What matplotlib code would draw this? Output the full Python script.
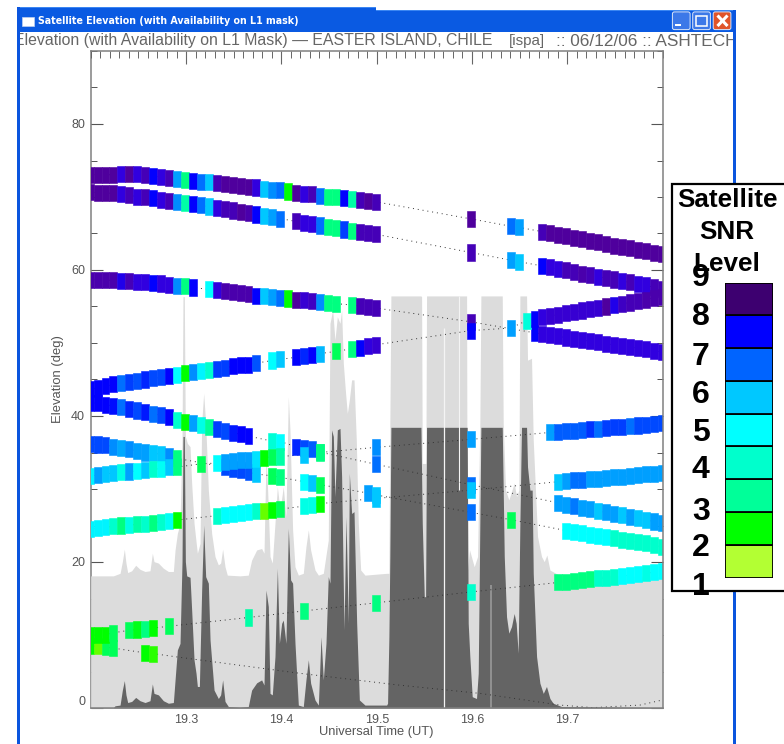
import matplotlib
matplotlib.use("Agg")
import matplotlib.pyplot as plt
from matplotlib.colors import LinearSegmentedColormap
from matplotlib.patches import Rectangle, FancyBboxPatch
from matplotlib.ticker import MultipleLocator, FixedLocator
from matplotlib.transforms import Bbox

W, H = 784, 744
IDL_FONT = "Liberation Sans"
IDL_COLOR = "#555555"

# --- SNR colour scale ----------------------------------------------------
level_nodes = [1, 1.5, 2, 3, 4, 5, 6, 6.5, 7, 7.5, 8, 8.3, 8.6, 8.8, 9]
level_hex = ["#B3FF33", "#66FF00", "#00FF00", "#00FF80", "#00FFCC", "#00FFFF", "#00C8FF",
             "#00A0FF", "#0070FF", "#0040FF", "#0000FF", "#3000E0", "#4400B8", "#5000A0", "#400070"]
legend_levels = [1, 2, 3, 4, 5, 6, 7, 8, 9]
legend_hex = ["#B3FF33", "#00FF00", "#00FF99", "#00FFCC", "#00FFFF", "#00C8FF", "#0064FF", "#0000FF", "#3D0070"]

# --- Satellite tracks: epoch (30 s cells from 19.2 UT), elevation (deg), SNR level ---
a_epoch = [*range(-1, 36), 47, 52, 53, *range(56, 72)]
a_elev = [73.05, 73.05, 73.05, 73.05, 73.1, 73.15, 73.15, 73.0, 72.85, 72.75, 72.6, 72.5, 72.3, 72.2, 72.1, 72.0,
          71.9, 71.75, 71.65, 71.55, 71.4, 71.3, 71.15, 71.0, 70.9, 70.75, 70.6, 70.45, 70.35, 70.2, 70.05, 69.95,
          69.8, 69.7, 69.6, 69.45, 69.35,
          67.0, 66.0, 65.85,
          65.25, 65.05, 64.8, 64.6, 64.4, 64.2, 64.0, 63.8, 63.55, 63.35, 63.15, 62.95, 62.75, 62.55, 62.35, 62.15]
a_level = [8.8, 8.8, 8.8, 8.8, 8.3, 8.8, 8.3, 8.6, 8, 8.3, 8.6, 6.5, 3, 8, 7, 6,
           8.6, 8.8, 8.8, 8.8, 8.8, 8.3, 6, 6.7, 7, 2, 8.8, 8.3, 8.6, 7, 3, 3,
           8, 3.5, 8.6, 8.8, 8.6,
           8.8, 7, 6.5,
           8.6, 8.8, 8.8, 8.8, 8.8, 8.8, 8.8, 8.8, 8.8, 8.8, 8.8, 8.8, 8.8, 8.8, 8.8, 8.8]

b_epoch = [*range(-1, 24), *range(25, 36), 47, 52, 53, *range(56, 72)]
b_elev = [70.65, 70.6, 70.55, 70.5, 70.4, 70.25, 70.05, 69.95, 69.8, 69.6, 69.45, 69.3, 69.15, 69.0, 68.85, 68.7,
          68.45, 68.3, 68.15, 68.0, 67.85, 67.6, 67.4, 67.25, 67.05,
          66.65, 66.5, 66.3, 66.1, 65.9, 65.75, 65.55, 65.4, 65.2, 65.05, 64.9,
          62.4, 61.35, 61.15,
          60.55, 60.35, 60.15, 59.95, 59.75, 59.5, 59.3, 59.1, 58.9, 58.7, 58.5, 58.3, 58.1, 57.9, 57.65, 57.45]
b_level = [8.8, 8.8, 8.8, 8.8, 8.3, 8.6, 8.3, 8.6, 8, 8.3, 8.6, 6.7, 3.5, 8, 7, 6,
           8.3, 8.6, 8.6, 8.8, 8.7, 8, 6, 6.5, 7,
           8.6, 8.3, 8.3, 7, 3, 3, 7.5, 3, 8.6, 8.6, 8.6,
           8.6, 6.5, 6,
           8, 8.3, 8.3, 8.6, 8.6, 8.7, 8.6, 8.3, 8.6, 8.6, 8.3, 8.6, 8.3, 8.3, 8.6, 8.6]

c_epoch = [*range(-1, 13), *range(14, 31), *range(32, 36), 47, *range(55, 72)]
c_elev = [58.65, 58.65, 58.6, 58.6, 58.55, 58.5, 58.4, 58.35, 58.25, 58.15, 58.0, 57.85, 57.75, 57.6,
          57.35, 57.2, 57.1, 56.95, 56.85, 56.7, 56.5, 56.4, 56.3, 56.2, 56.1, 55.95, 55.85, 55.75, 55.65, 55.5, 55.4,
          55.2, 55.05, 54.95, 54.8,
          52.9,
          51.4, 51.25, 51.05, 50.9, 50.75, 50.55, 50.4, 50.25, 50.1, 49.9, 49.75, 49.6, 49.45, 49.3, 49.15, 48.95, 48.8]
c_level = [8.7, 8.7, 8.7, 8.7, 8.2, 8.6, 8.3, 8.3, 8, 8.3, 8.3, 6.7, 3, 8,
           5, 8.3, 8.7, 8.7, 8.7, 8.7, 8, 6, 6.5, 7, 2, 8.8, 8.4, 8.5, 6.7, 3, 3,
           3, 8.6, 8.6, 8.6,
           8.6,
           8, 8.3, 8.3, 8.3, 8.3, 8.3, 8.3, 8.3, 8.3, 8.3, 8.3, 8.3, 8.3, 8.3, 8.3, 8.3, 8.3]

d_epoch = [*range(-1, 21), 22, 23, *range(25, 29), 30, *range(32, 36), 47, 52, *range(54, 72)]
d_elev = [43.7, 43.8, 44.05, 44.35, 44.5, 44.65, 44.8, 45.0, 45.15, 45.3, 45.5, 45.65, 45.85, 46.0, 46.15, 46.3,
          46.5, 46.6, 46.8, 46.95, 47.05, 47.25,
          47.6, 47.75, 48.05, 48.2, 48.35, 48.55, 48.85, 49.2, 49.35, 49.55, 49.75,
          51.7, 52.05,
          53.05, 53.3, 53.5, 53.7, 53.9, 54.05, 54.25, 54.45, 54.65, 54.8, 55.0, 55.2, 55.35, 55.55, 55.75, 55.95,
          56.15, 56.35]
d_level = [8, 8, 8, 8, 7, 7.5, 7.3, 7.7, 7.4, 7.4, 8, 5, 2, 6.7, 5.2, 4,
           7.5, 7.5, 8, 8, 8, 7.3,
           5, 6, 8, 7.7, 8, 6.2, 2.7, 3, 8, 8.3, 8.4,
           8, 6.5,
           4.3, 8, 8.3, 8.4, 8.4, 8.4, 8.4, 8.4, 8.4, 8.4, 8.8, 8.2, 8.5, 8.6, 8.6, 8.7, 8.7, 8.7]

f_epoch = [*range(-1, 20), 22, 23, *range(25, 29), 35, 47, *range(58, 72)]
f_elev = [41.8, 41.75, 41.55, 41.35, 41.2, 40.95, 40.75, 40.55, 40.3, 40.1, 39.85,
          39.45, 39.2, 39.0, 38.75, 38.5, 38.2, 37.95, 37.7, 37.5, 37.25,
          36.55, 36.5, 35.8, 35.65, 35.45, 35.05, 33.4, 30.6,
          28.1, 27.85, 27.65, 27.45, 27.2, 27.0, 26.8, 26.6, 26.4, 26.2, 26.0, 25.8, 25.55, 25.3]
f_level = [8, 8, 8, 7.9, 7, 7.7, 7.4, 7.8, 7, 7.4, 8,
           4, 2, 6.5, 4.5, 3.3, 7.5, 7.4, 7.8, 8, 8,
           4.2, 5, 7.7, 7.4, 7.2, 3, 7, 7,
           6.5, 6.5, 6.9, 6.5, 6.5, 6, 6.5, 6.5, 6, 6.5, 6, 6, 6.5, 6.5]

g_epoch = [*range(-1, 11), *range(16, 21), 22, 23, 26, 27, 28, 34, 35, 47, 52, *range(59, 72)]
g_elev = [36.2, 36.1, 36.0, 35.8, 35.65, 35.45, 35.2, 35.0, 34.9, 34.75, 34.55, 34.2,
          33.0, 32.8, 32.55, 32.3, 32.05,
          31.8, 31.6, 31.0, 30.8, 30.6, 29.45, 29.2, 26.8, 25.8,
          24.3, 24.1, 23.95, 23.75, 23.6, 23.4, 23.25, 23.05, 22.9, 22.7, 22.55, 22.3, 22.1]
g_level = [7.4, 7.4, 7.4, 6.7, 6.4, 6.7, 6.5, 6.5, 6, 6, 6.7, 3,
           7.4, 7.4, 7.4, 7.3, 6,
           2.7, 3, 5, 6, 2.7, 6.5, 6, 7, 2.7,
           5, 5, 5, 5, 5, 5, 4, 4, 4, 4, 4, 4, 4]

k_epoch = [*range(-1, 11), 13, *range(15, 24), 26, 28, 35, 47, *range(57, 72)]
k_elev = [31.8, 31.9, 32.0, 32.25, 32.35, 32.4, 32.45, 32.6, 32.7, 32.8, 32.95, 33.0,
          33.45,
          33.55, 33.75, 33.85, 33.95, 34.0, 34.1, 34.3, 34.4, 34.45,
          34.7, 35.0, 35.7, 36.8,
          37.75, 37.85, 37.95, 38.0, 38.1, 38.2, 38.25, 38.35, 38.45, 38.5, 38.6, 38.7, 38.8, 38.9, 39.0]
k_level = [5.2, 6.5, 6, 6, 4.5, 6.5, 5, 6, 4, 4.8, 6, 3,
           2.7,
           5, 6.5, 6.5, 6.5, 6.5, 5.5, 2, 2.7, 3.5,
           6, 3, 6.7, 6.5,
           6.5, 7.2, 7.2, 7.2, 7.2, 7.6, 7, 7.5, 7.5, 7.5, 7, 7.4, 7.4, 7.4, 7.4]

m_epoch = [*range(-1, 11), *range(15, 24), 26, 27, 28, 35, 47, *range(58, 72)]
m_elev = [24.5, 24.6, 24.75, 24.9, 25.0, 25.05, 25.15, 25.25, 25.4, 25.5, 25.6, 25.75,
          26.35, 26.5, 26.6, 26.7, 26.85, 26.95, 27.05, 27.15, 27.25,
          27.65, 27.8, 28.0, 28.7, 29.85,
          31.0, 31.1, 31.2, 31.25, 31.35, 31.4, 31.5, 31.6, 31.7, 31.8, 31.9, 32.0, 32.1, 32.2]
m_level = [5.2, 5.2, 5.2, 4, 3, 4.5, 3.5, 4, 3, 4, 4.8, 2,
           4, 5, 5, 5, 5, 4, 1.5, 2, 2.7,
           4.5, 4.5, 2, 6, 6,
           6, 6.5, 7, 7, 6.5, 6.5, 6.5, 6.5, 6.5, 6.5, 6.5, 6.5, 6.5, 6.5]

n_epoch = [-1, 0, 1, 2, 4, 5, 6, 7, 9, 19, 26, 35, 47, *range(58, 72)]
n_elev = [9.95, 10.0, 10.05, 10.3, 10.65, 10.75, 10.8, 10.95, 11.2, 12.4, 13.3, 14.4, 15.9,
          17.2, 17.3, 17.4, 17.55, 17.65, 17.75, 17.85, 17.95, 18.05, 18.2, 18.3, 18.45, 18.6, 18.75]
n_level = [2, 2, 2, 2.7, 2.7, 2.2, 3, 2, 2.7, 3.5, 3, 3, 4,
           3, 3, 3, 3, 3, 4, 4, 4, 5, 5, 5, 4.5, 5, 5]

p_epoch = [-1, 0, 1, 2, 6, 7]
p_elev = [8.5, 8.45, 8.35, 8.2, 7.55, 7.45]
p_level = [2, 1.5, 2.7, 2.7, 2, 1.8]
p_tail_time = [19.2902, 19.4195, 19.5226, 19.6083, 19.6922, 19.7271, 19.7761, 19.7999]
p_tail_elev = [7.0, 4.75, 3.15, 2.0, 0.4, 0.05, 0.4, 1.1]

# --- Sky obstruction: upper envelopes (UT hours, deg) ----------------------
light_time = [19.2, 19.2238, 19.2308, 19.2332, 19.2353, 19.237, 19.2388, 19.243, 19.2472, 19.2517, 19.257, 19.2622,
              19.2647, 19.2664, 19.271, 19.2762, 19.2815, 19.2867, 19.2885, 19.2909, 19.2937, 19.2958, 19.2968,
              19.2982, 19.2993, 19.3014, 19.3042, 19.3059, 19.3084, 19.3105, 19.3119, 19.3147, 19.3164, 19.3185,
              19.3206, 19.3234, 19.3269, 19.3304, 19.3339, 19.3363, 19.3384, 19.3409, 19.3433, 19.3566,
              19.3653, 19.3688, 19.3741, 19.3793, 19.3818, 19.3839, 19.3856, 19.3881, 19.3905, 19.3933, 19.3958,
              19.3986, 19.402, 19.4048, 19.4073, 19.409, 19.4118, 19.4143, 19.4178, 19.423, 19.4258, 19.4283,
              19.4307, 19.4353, 19.4388, 19.444, 19.4492, 19.451, 19.4538, 19.4562, 19.4587, 19.4615, 19.4632,
              19.465, 19.4671, 19.4692, 19.4713, 19.4737, 19.4762, 19.4786, 19.4807, 19.4832, 19.4877, 19.5104,
              19.5128, 19.5138, 19.5149, 19.5464, 19.5471, 19.5478, 19.5516, 19.5523, 19.5943, 19.5949, 19.5974,
              19.6023, 19.6058, 19.6082, 19.6093, 19.6317, 19.6327, 19.6352, 19.6386, 19.6442, 19.6467, 19.6491,
              19.6502, 19.6572, 19.6582, 19.6624, 19.6642, 19.6687, 19.6729, 19.6757, 19.6785, 19.6817, 19.69,
              19.71, 19.8]
light_elev = [18.1, 18.1, 18.45, 20.05, 21.75, 19.85, 18.55, 18.8, 19.55, 19.0, 18.7, 18.8,
              21.2, 20.05, 19.85, 19.15, 18.7, 18.7, 21.65, 23.9, 25.3, 36.7, 56.35,
              56.35, 37.2, 36.25, 35.8, 30.8, 25.3, 22.8, 21.2, 22.55, 39.0, 43.1,
              39.0, 29.85, 23.9, 20.75, 19.6, 19.85, 21.75, 19.35, 18.2, 18.1,
              18.2, 20.25, 21.65, 21.85, 21.2, 34.4, 29.85, 20.75, 19.85, 25.3, 30.3,
              27.1, 30.3, 26.2, 42.65, 38.1, 24.4, 19.35, 18.2, 18.45, 22.1, 24.4,
              21.65, 18.9, 18.2, 18.45, 23.0, 52.7, 54.5, 50.4, 53.6, 52.7, 54.5,
              47.2, 43.55, 40.35, 42.2, 44.95, 44.95, 36.7, 25.3, 18.9, 18.2, 18.45,
              18.45, 39.0, 56.45, 56.45, 56.35, 33.5, 33.5, 56.45, 56.45, 18.45, 21.65,
              19.35, 20.75, 39.0, 56.45, 56.45, 39.0, 29.85, 28.5, 30.8, 28.95, 29.85,
              56.45, 56.45, 47.65, 47.9, 36.7, 23.5, 20.75, 20.05, 20.95, 18.9, 18.3,
              18.2, 18.0]

dark_time = [19.2, 19.2238, 19.2255, 19.2308, 19.2332, 19.2353, 19.237, 19.2388, 19.243, 19.2472, 19.2517, 19.257,
             19.2622, 19.2647, 19.2664, 19.271, 19.2762, 19.2815, 19.2867, 19.2885, 19.2909, 19.2937, 19.2958,
             19.2968, 19.2982, 19.2993, 19.3007, 19.3042, 19.3059, 19.3084, 19.3105, 19.3119, 19.314, 19.3164,
             19.3185, 19.3206, 19.3234, 19.3252, 19.3294, 19.3339, 19.3363, 19.3384, 19.3409, 19.3444, 19.3566,
             19.3653, 19.3688, 19.3741, 19.3793, 19.3818, 19.3839, 19.3863, 19.3881, 19.3905, 19.3933, 19.3958,
             19.3979, 19.4003, 19.402, 19.4048, 19.4073, 19.4097, 19.4118, 19.4143, 19.4178, 19.423, 19.4258,
             19.4283, 19.4307, 19.4353, 19.4388, 19.4416, 19.444, 19.4468, 19.4492, 19.451, 19.4527, 19.4545,
             19.4562, 19.4587, 19.4615, 19.4632, 19.4657, 19.4678, 19.4702, 19.4713, 19.4737, 19.4762, 19.479,
             19.4818, 19.4877, 19.5104, 19.5114, 19.5128, 19.5138, 19.5149, 19.5464, 19.5478, 19.5499, 19.5513,
             19.5523, 19.5949, 19.596, 19.5977, 19.6002, 19.6047, 19.6065, 19.6082, 19.6093, 19.6317, 19.6338,
             19.6362, 19.6386, 19.6414, 19.6442, 19.6463, 19.6484, 19.6502, 19.6519, 19.6572, 19.6582, 19.6607,
             19.6631, 19.6642, 19.6677, 19.6712, 19.6747, 19.6781, 19.6817, 19.6851, 19.6939, 19.8]
dark_elev = [0.05, 0.05, 0.3, 0.4, 2.45, 3.75, 1.8, 0.75, 0.9, 1.45, 1.0, 0.75,
             1.0, 3.3, 2.0, 1.8, 1.0, 0.65, 0.75, 3.85, 7.95, 8.85, 20.05,
             37.2, 37.2, 20.05, 18.1, 17.9, 13.45, 6.6, 4.75, 2.95, 2.95, 16.15,
             25.05, 18.0, 17.1, 9.3, 2.45, 1.3, 1.8, 3.85, 0.9, 0.2, 0.1,
             0.2, 2.45, 3.45, 3.85, 3.15, 16.15, 13.9, 2.0, 1.8, 7.05, 19.15,
             8.85, 11.6, 12.05, 8.85, 24.6, 17.55, 17.1, 8.85, 0.4, 0.2, 3.85,
             6.6, 3.4, 1.1, 0.4, 9.75, 3.85, 8.85, 18.0, 17.1, 38.1, 37.2,
             28.95, 38.1, 38.3, 31.7, 10.7, 26.2, 11.6, 32.15, 26.65, 26.9, 11.6,
             1.1, 0.4, 0.4, 0.65, 9.75, 20.75, 38.45, 38.45, 25.3, 15.25, 15.25,
             38.45, 38.45, 11.6, 7.05, 1.55, 1.3, 4.75, 25.3, 38.45, 38.45, 20.75,
             12.5, 10.25, 11.15, 12.95, 11.6, 7.5, 25.3, 38.45, 38.45, 33.05, 29.85,
             29.85, 18.45, 7.05, 3.4, 2.0, 2.95, 1.3, 0.65, 0.2, 0.05]

white_gap_time, white_gap_top = 19.5708, 52.0
thin_gap_time, thin_gap_bottom, thin_gap_top = 19.5866, 29.85, 56.45
grey_gap_time, grey_gap_top = 19.6194, 16.85

# --- Text ---------------------------------------------------------------
window_title = "Satellite Elevation (with Availability on L1 mask)"
plot_title_parts = ["Elevation (with Availability on L1 Mask) \u2014 EASTER ISLAND, CHILE", "[ispa]", ":: 06/12/06 :: ASHTECH"]
x_labels = ["19.3", "19.4", "19.5", "19.6", "19.7"]
x_ticks = [19.3, 19.4, 19.5, 19.6, 19.7]
y_ticks = [0, 20, 40, 60, 80]
legend_title = ["Satellite", "SNR", "Level"]

# --- Figure -------------------------------------------------------------
fig = plt.figure(figsize=(W / 100, H / 100), dpi=100, facecolor="white")


def px_rect(left, top, right, bottom):
    return [left / W, 1 - bottom / H, (right - left) / W, (bottom - top) / H]


def pixel_axes(z):
    a = fig.add_axes([0, 0, 1, 1], zorder=z)
    a.set_xlim(0, W)
    a.set_ylim(H, 0)
    a.axis("off")
    a.patch.set_alpha(0)
    return a


# Window chrome (under the plot)
bg = pixel_axes(0)
BLUE = "#0A5AE2"
bg.add_patch(Rectangle((17.3, 7), 358.7, 25, fc=BLUE, ec="none"))
bg.add_patch(Rectangle((376, 10), 360, 22, fc=BLUE, ec="none"))
bg.add_patch(Rectangle((17.3, 7), 358.7, 1.2, fc="#3B86F2", ec="none"))
bg.add_patch(Rectangle((376, 10), 360, 1.2, fc="#3B86F2", ec="none"))
bg.add_patch(Rectangle((17.3, 7), 2.8, H - 7, fc="#0B55DE", ec="none"))
bg.add_patch(Rectangle((733, 10), 3, H - 10, fc="#0B55DE", ec="none"))
bg.add_patch(Rectangle((22, 17), 12, 8.5, fc="white", ec="#BFD0F0", lw=0.5))
bg.text(38.5, 21.5, window_title, color="white", fontsize=6.85, fontweight="bold",
        family="DejaVu Sans", va="center", ha="left")
for bx, col in [(672, "#3C78E8"), (692.3, "#3C78E8"), (712.8, "#E0542A")]:
    bg.add_patch(FancyBboxPatch((bx + 1, 12.5), 16.5, 16.5, boxstyle="round,pad=0.6,rounding_size=2",
                                fc=col, ec="#DDE6F8", lw=0.7))
bg.add_patch(Rectangle((675.5, 24), 6, 2.2, fc="white", ec="none"))
bg.add_patch(Rectangle((696.5, 16), 10.5, 10, fc="none", ec="white", lw=1.1))
bg.plot([717.5, 727.5], [15.5, 26], color="white", lw=2.2, solid_capstyle="butt")
bg.plot([727.5, 717.5], [15.5, 26], color="white", lw=2.2, solid_capstyle="butt")

for txt, tx, fs in zip(plot_title_parts, [14.5, 509, 556], [11.45, 10.9, 12.4]):
    t = bg.text(tx, 41, txt, color="#666666", fontsize=fs, family=IDL_FONT, va="center", ha="left",
                clip_on=True)
    t.set_clip_box(Bbox([[20, H - 51], [733, H - 33]]))

# Plot
ax = fig.add_axes(px_rect(90.7, 51, 662.7, 708), zorder=1)
ax.set_xlim(19.2, 19.8)
ax.set_ylim(0, 90)
ax.set_facecolor("white")
ax.set_axisbelow(True)

ax.fill_between(light_time, light_elev, 0, color="#DCDCDC", lw=0, zorder=1)
ax.fill_between(dark_time, dark_elev, 0, color="#646464", lw=0, zorder=2)
ax.vlines(white_gap_time, 0, white_gap_top, color="#F4F4F4", lw=0.9, zorder=3)
ax.vlines(thin_gap_time, thin_gap_bottom, thin_gap_top, color="#F4F4F4", lw=0.8, zorder=3)
ax.vlines(grey_gap_time, 0, grey_gap_top, color="#9A9A9A", lw=1.2, zorder=3)

cmap = LinearSegmentedColormap.from_list(
    "snr", [((v - 1) / 8, c) for v, c in zip(level_nodes, level_hex)], N=512)

CELL = 1 / 120
BAND = 2.2
tracks = [(a_epoch, a_elev, a_level), (b_epoch, b_elev, b_level), (c_epoch, c_elev, c_level),
          (f_epoch, f_elev, f_level), (g_epoch, g_elev, g_level), (k_epoch, k_elev, k_level),
          (d_epoch, d_elev, d_level), (m_epoch, m_elev, m_level), (p_epoch, p_elev, p_level),
          (n_epoch, n_elev, n_level)]
for n, (epoch, elev, level) in enumerate(tracks):
    left = [19.2 + (e + 0.36) * CELL for e in epoch]
    centre = [v + CELL / 2 for v in left]
    line_t, line_e = centre, elev
    if epoch is p_epoch:
        line_t = centre + p_tail_time
        line_e = elev + p_tail_elev
    ax.plot(line_t, line_e, color="#333333", lw=0.7, dashes=(1, 4), zorder=4)
    colours = [cmap((v - 1) / 8) for v in level]
    ax.bar(left, BAND, width=CELL, bottom=[v - BAND / 2 for v in elev], align="edge",
           color=colours, edgecolor=colours, lw=0.4, zorder=5 + n * 0.01)

for name, side in ax.spines.items():
    side.set_color("#808080")
    side.set_linewidth(1.1)
    side.set_zorder(0.5 if name == "left" else 8)
ax.xaxis.set_major_locator(FixedLocator(x_ticks))
ax.set_xticklabels(x_labels)
ax.xaxis.set_minor_locator(MultipleLocator(0.01))
ax.yaxis.set_major_locator(FixedLocator(y_ticks))
ax.yaxis.set_minor_locator(MultipleLocator(5))
ax.tick_params(axis="x", which="both", bottom=False, top=True, direction="in", color="#666666")
ax.tick_params(axis="x", which="major", length=9.4, width=0.8, pad=4.4, labelsize=9, labelcolor=IDL_COLOR)
ax.tick_params(axis="x", which="minor", length=5, width=0.7)
ax.tick_params(axis="y", which="both", left=True, right=True, direction="in", color="#555555")
ax.tick_params(axis="y", which="major", length=8.6, width=0.8, pad=4, labelsize=9, labelcolor=IDL_COLOR)
ax.tick_params(axis="y", which="minor", length=4.3, width=0.7)
for lab in ax.get_xticklabels() + ax.get_yticklabels():
    lab.set_family(IDL_FONT)
ax.get_yticklabels()[0].set_verticalalignment("bottom")
ax.set_xlabel("Universal Time (UT)", fontsize=9.3, family=IDL_FONT, color=IDL_COLOR)
ax.xaxis.set_label_coords(0.5, -(726.5 - 708) / 657)
ax.set_ylabel("Elevation (deg)", fontsize=9.4, family=IDL_FONT, color=IDL_COLOR)
ax.yaxis.set_label_coords((64 - 90.7) / 572, (708 - 379) / 657)

# Legend panel
top = pixel_axes(3)
top.add_patch(Rectangle((672.5, 183.5), 130, 407, fc="white", ec="black", lw=1.6))
for txt, ty in zip(legend_title, [200, 232, 264]):
    top.text(727, ty, txt, fontsize=18.8, fontweight="bold", family="Liberation Sans",
             ha="center", va="center", color="black")

leg = fig.add_axes(px_rect(725, 282.5, 772.5, 577.5), zorder=4)
leg.barh(legend_levels, 1, height=1, color=legend_hex, edgecolor="black", lw=1.3)
leg.set_xlim(0, 1)
leg.set_ylim(0.5, 9.5)
leg.axis("off")

for lev, ty in zip(legend_levels, [587, 548, 512, 470, 433, 395, 357, 317, 278]):
    top.text(700.7, ty, str(lev), fontsize=23, fontweight="bold", family="Liberation Sans",
             ha="center", va="center", color="black", zorder=6)

fig.savefig("out.png", dpi=100)
